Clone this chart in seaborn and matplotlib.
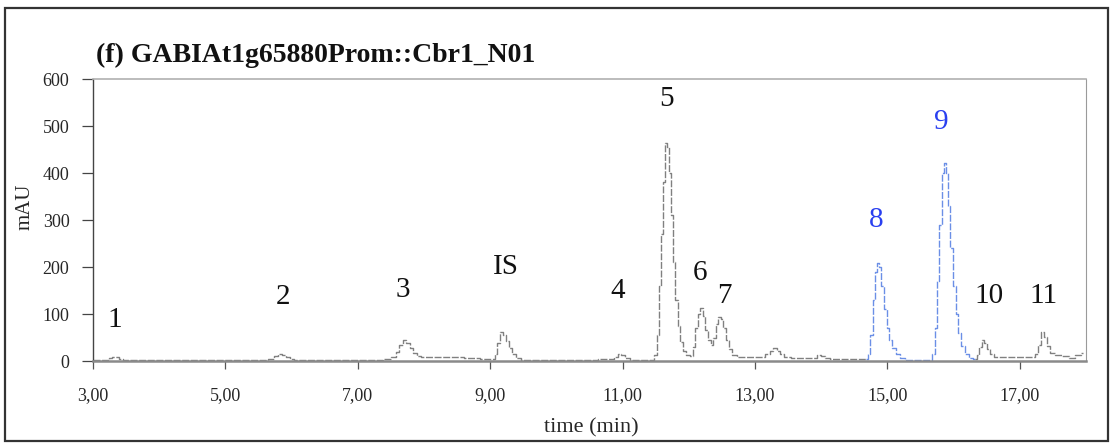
import pandas as pd
import seaborn as sns
import matplotlib.pyplot as plt
from matplotlib.patches import Rectangle

# chromatogram trace (time in min, signal in mAU)
grey1_time = [3.00, 3.22, 3.26, 3.30, 3.36, 3.42, 3.48, 5.60, 5.70, 5.76, 5.82, 5.88, 5.94, 6.00,
              6.06, 7.30, 7.45, 7.55, 7.60, 7.65, 7.71, 7.76, 7.81, 7.86, 7.92, 8.00, 8.40, 8.80,
              8.90, 9.05, 9.09, 9.13, 9.18, 9.22, 9.27, 9.31, 9.36, 9.42, 9.50, 9.80, 10.40, 10.85,
              10.90, 10.95, 11.00, 11.06, 11.15, 11.45, 11.50, 11.54, 11.57, 11.60, 11.63, 11.66,
              11.69, 11.72, 11.75, 11.78, 11.81, 11.85, 11.89, 11.94, 11.99, 12.04, 12.08, 12.12,
              12.16, 12.19, 12.23, 12.27, 12.31, 12.35, 12.39, 12.43, 12.46, 12.50, 12.54, 12.58,
              12.63, 12.69, 12.76, 13.10, 13.20, 13.25, 13.30, 13.35, 13.40, 13.48, 13.60, 13.90,
              13.96, 14.02, 14.08, 14.20, 14.68]
grey1_mau = [2, 2, 6, 9, 9, 5, 2, 2, 5, 11, 15, 13, 9, 5,
             2, 3, 4, 8, 20, 33, 45, 38, 27, 17, 11, 9, 9, 7,
             4, 4, 15, 38, 62, 55, 42, 28, 15, 7, 3, 3, 3, 4,
             9, 15, 12, 6, 3, 3, 12, 55, 160, 270, 380, 464,
             455, 400, 310, 210, 130, 75, 40, 22, 12, 10, 30, 70,
             100, 113, 95, 65, 45, 35, 50, 78, 94, 90, 70, 45,
             25, 12, 8, 8, 14, 22, 27, 22, 14, 8, 6, 7,
             12, 10, 6, 4, 4]

blue_time = [14.68, 14.72, 14.76, 14.80, 14.83, 14.86, 14.89, 14.93, 14.97, 15.01, 15.05, 15.10,
             15.16, 15.22, 15.30, 15.66, 15.70, 15.74, 15.77, 15.80, 15.84, 15.87, 15.90, 15.93,
             15.97, 16.01, 16.05, 16.09, 16.14, 16.20, 16.27, 16.33]
blue_mau = [4, 15, 55, 130, 190, 209, 200, 160, 110, 70, 45, 28,
            15, 7, 3, 3, 15, 70, 170, 290, 400, 421, 400, 330,
            240, 160, 100, 60, 32, 15, 6, 4]

grey2_time = [16.33, 16.37, 16.41, 16.44, 16.48, 16.52, 16.57, 16.65, 16.80, 17.20, 17.26, 17.30,
              17.34, 17.38, 17.43, 17.49, 17.57, 17.70, 17.80, 17.88, 17.96]
grey2_mau = [4, 12, 30, 45, 38, 25, 14, 9, 8, 8, 14, 35,
             62, 52, 32, 18, 12, 10, 6, 12, 16]

# peak annotations
peak_names = ["1", "2", "3", "IS", "4", "5", "6", "7", "8", "9", "10", "11"]
peak_time = [3.33, 5.87, 7.68, 9.23, 10.93, 11.67, 12.17, 12.53, 14.83, 15.82, 16.53, 17.36]
peak_label_y = [87, 136, 151, 200, 149, 557, 187, 138, 300, 509, 138, 138]
blue_peaks = ["8", "9"]

xticks = [3, 5, 7, 9, 11, 13, 15, 17]
yticks = [0, 100, 200, 300, 400, 500, 600]

df = pd.concat([
    pd.DataFrame({"time": grey1_time, "mAU": grey1_mau, "segment": "a"}),
    pd.DataFrame({"time": blue_time, "mAU": blue_mau, "segment": "b"}),
    pd.DataFrame({"time": grey2_time, "mAU": grey2_mau, "segment": "c"}),
])

sns.set_theme(style="white")
plt.rcParams["font.family"] = ["Liberation Serif", "DejaVu Serif"]

W, H = 1115, 444
fig = plt.figure(figsize=(W / 100, H / 100), dpi=100)
ax = fig.add_axes([93 / W, 1 - 361 / H, (1086 - 93) / W, (361 - 79) / H])

sns.lineplot(data=df, x="time", y="mAU", hue="segment",
             palette={"a": "#808080", "b": "#6b8fe6", "c": "#808080"},
             estimator=None, sort=False, drawstyle="steps-mid",
             linewidth=1.0, linestyle=(0, (5, 1.2)), legend=False, ax=ax)

for name, t, y in zip(peak_names, peak_time, peak_label_y):
    col = "#2a40f0" if name in blue_peaks else "#111111"
    ax.text(t, y, name, ha="center", va="center", fontsize=21, color=col)

ax.set_xlim(3, 18)
ax.set_ylim(0, 600)
ax.set_xticks(xticks)
ax.set_xticklabels([f"{v:.2f}".replace(".", ",") for v in xticks])
ax.set_yticks(yticks)
ax.set_xlabel("")
ax.set_ylabel("")
ax.tick_params(axis="y", direction="out", length=8, width=0.9, color="#444444",
               pad=9, labelsize=13, left=True)
ax.tick_params(axis="x", direction="out", length=6, width=0.9, color="#555555",
               pad=13, labelsize=13, bottom=True)

ax.spines["left"].set_color("#444444")
ax.spines["left"].set_linewidth(1.0)
ax.spines["bottom"].set_color("#8a8a8a")
ax.spines["bottom"].set_linewidth(1.8)
ax.spines["top"].set_color("#b0b0b0")
ax.spines["top"].set_linewidth(1.2)
ax.spines["right"].set_color("#9a9a9a")
ax.spines["right"].set_linewidth(0.8)

fig.text(96 / W, 1 - 62 / H, "(f) GABIAt1g65880Prom::Cbr1_N01", ha="left", va="baseline",
         fontsize=20, fontweight="bold", color="#111111")
fig.text(25 / W, 1 - 207 / H, "mAU", rotation=90, ha="center", va="center", fontsize=15)
fig.text(591 / W, 1 - 428 / H, "time (min)", ha="center", va="center", fontsize=16)

fig.patches.append(Rectangle((5 / W, 3 / H), (1108 - 5) / W, (436 - 3) / H,
                             transform=fig.transFigure, fill=False,
                             edgecolor="#333333", linewidth=1.6))

fig.savefig("out.png", dpi=100)
